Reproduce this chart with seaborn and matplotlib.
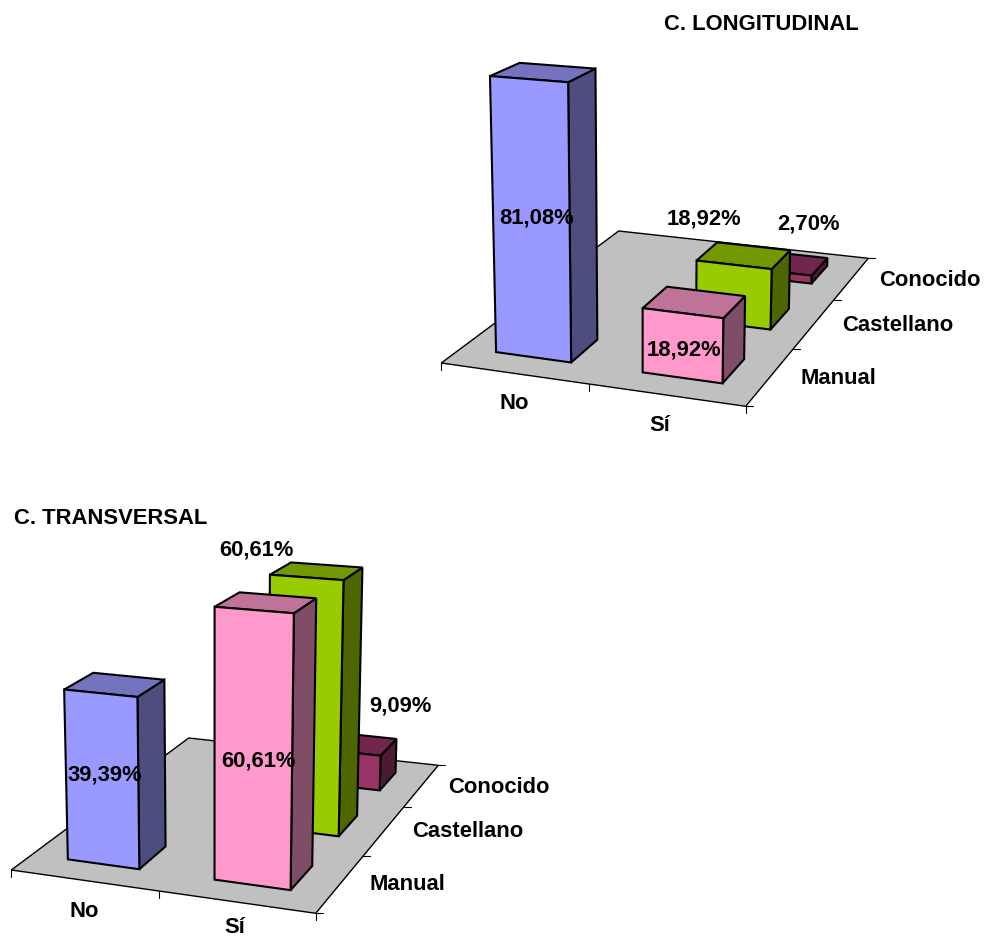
import matplotlib
matplotlib.use("Agg")
import matplotlib.pyplot as plt
import numpy as np
import seaborn as sns

groups = ["No", "Sí"]
series = ["Manual", "Castellano", "Conocido"]

# percent values, one row per series
long_no = [81.08, 0, 0]
long_si = [18.92, 18.92, 2.70]
trans_no = [39.39, 0, 0]
trans_si = [60.61, 60.61, 9.09]

sns.set_theme(style="white")
plt.rcParams["font.family"] = ["Liberation Sans", "DejaVu Sans"]

no_color = "#9999FF"
si_colors = ["#FF99CC", "#99CC00", "#993366"]
floor_color = "#C0C0C0"

# floor corners of the upper chart in pixels: (0,0) (2,0) (2,3) (0,3)
corners = np.array([[441.3, 364], [745.7, 407.3], [868.3, 259.3], [618.7, 232]])
lower_shift = np.array([-430, 507])
vanish = np.array([643, 7000])
depth = -0.045
bar_d = 0.43
bar_y0 = 0.29


def make_camera(pts, zmax, vp):
    world = [(0, 0), (2, 0), (2, 3), (0, 3)]
    A, b = [], []
    for (x, y), (u, v) in zip(world, pts):
        A.append([x, y, 1, 0, 0, 0, -u * x, -u * y])
        A.append([0, 0, 0, x, y, 1, -v * x, -v * y])
        b += [u, v]
    h = np.linalg.solve(np.array(A, float), np.array(b, float))

    def project(x, y, z=0):
        t = z / zmax * depth
        w = h[6] * x + h[7] * y + 1 + t
        return ((h[0] * x + h[1] * y + h[2] + t * vp[0]) / w,
                (h[3] * x + h[4] * y + h[5] + t * vp[1]) / w)
    return project


def draw_bar(ax, project, i, j, value, color, bar_w):
    x0 = i + 0.5 - bar_w / 2
    x1 = x0 + bar_w
    y0 = j + bar_y0
    y1 = y0 + bar_d
    base = np.array(matplotlib.colors.to_rgb(color))
    faces = [
        ([(x1, y0, 0), (x1, y1, 0), (x1, y1, value), (x1, y0, value)], base * 0.5),
        ([(x0, y0, value), (x1, y0, value), (x1, y1, value), (x0, y1, value)], base * 0.75),
        ([(x0, y0, 0), (x1, y0, 0), (x1, y0, value), (x0, y0, value)], base),
    ]
    for pts, c in faces:
        ax.fill(*zip(*[project(*p) for p in pts]), facecolor=c, edgecolor="black",
                linewidth=1.5, joinstyle="miter", zorder=3)


def draw_chart(ax, pts, zmax, vp, bar_w, no_vals, si_vals):
    project = make_camera(pts, zmax, vp)
    ax.fill(*zip(*[project(*p) for p in [(0, 0), (2, 0), (2, 3), (0, 3)]]),
            facecolor=floor_color, edgecolor="black", linewidth=1.0, zorder=1)
    for i in range(len(groups) + 1):
        u, v = project(i, 0)
        ax.plot([u, u], [v, v + 7], color="black", linewidth=0.8, zorder=2)
    for j in range(len(series) + 1):
        u, v = project(2, j)
        ax.plot([u, u + 7], [v, v], color="black", linewidth=0.8, zorder=2)
    # back to front so the nearer bars hide the others
    for j in reversed(range(len(series))):
        if no_vals[j] > 0:
            draw_bar(ax, project, 0, j, no_vals[j], no_color, bar_w)
        if si_vals[j] > 0:
            draw_bar(ax, project, 1, j, si_vals[j], si_colors[j], bar_w)


def fmt(v):
    return f"{v:.2f}".replace(".", ",") + "%"


fig = plt.figure(figsize=(9.86, 9.37), dpi=100)
ax = fig.add_axes([0, 0, 1, 1])
ax.set_xlim(0, 986)
ax.set_ylim(937, 0)
ax.axis("off")

draw_chart(ax, corners, 90, vanish, 0.52, long_no, long_si)
draw_chart(ax, corners + lower_shift, 70, vanish + lower_shift, 0.495, trans_no, trans_si)


def label(x, y, s, size=15.8):
    ax.text(x, y + 2, s, fontsize=size, fontweight="bold", ha="center", va="center",
            color="black", zorder=5)


label(761, 23, "C. LONGITUDINAL")
label(111, 517, "C. TRANSVERSAL")

label(537, 216, fmt(long_no[0]))
label(684, 348, fmt(long_si[0]))
label(704, 217, fmt(long_si[1]))
label(808, 222, fmt(long_si[2]))
label(105, 773, fmt(trans_no[0]))
label(258, 759, fmt(trans_si[0]))
label(256, 548, fmt(trans_si[1]))
label(400, 704, fmt(trans_si[2]))

for (x, y), s in zip([(514, 402), (660, 424)], groups):
    label(x, y, s)
for (x, y), s in zip([(84, 910), (235, 926)], groups):
    label(x, y, s)
for (x, y), s in zip([(838, 377), (898, 324), (930, 279)], series):
    label(x, y, s)
for (x, y), s in zip([(407, 883), (468, 830), (499, 786)], series):
    label(x, y, s)

fig.savefig("out.png", dpi=100)
